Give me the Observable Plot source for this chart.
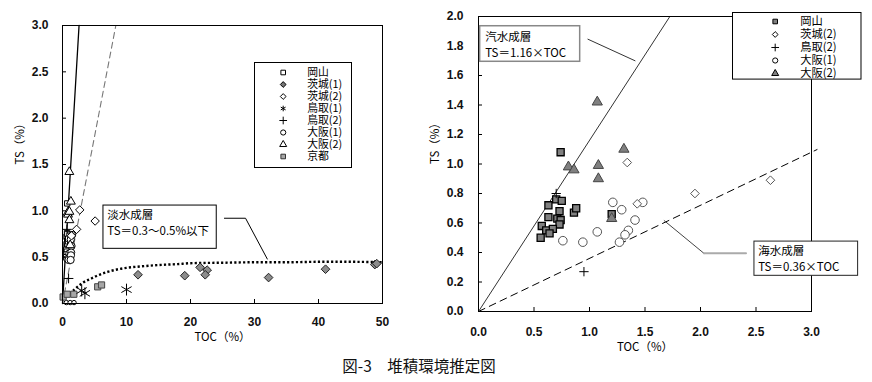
<!DOCTYPE html>
<html><head><meta charset="utf-8">
<script src="https://cdn.jsdelivr.net/npm/d3@7"></script>
<script src="https://cdn.jsdelivr.net/npm/@observablehq/plot@0.6"></script>
<style>
html,body{margin:0;padding:0;background:#fff;}
#wrap{position:relative;width:872px;height:382px;overflow:hidden;font-family:"Noto Sans CJK JP",sans-serif;}
#wrap svg{position:absolute;overflow:visible;max-width:none;}
#caption{position:absolute;left:0;width:838px;top:354px;text-align:center;font-size:15.5px;color:#111;font-family:"Noto Sans CJK JP",sans-serif;}
</style></head>
<body><div id="wrap"><div id="caption">図-3　堆積環境推定図</div></div>
<script>
// ---------------- data ----------------
const xTicksL = [0, 10, 20, 30, 40, 50];
const yTicksL = [0, 0.5, 1.0, 1.5, 2.0, 2.5, 3.0];
const xTicksR = [0, 0.5, 1.0, 1.5, 2.0, 2.5, 3.0];
const yTicksR = [0, 0.2, 0.4, 0.6, 0.8, 1.0, 1.2, 1.4, 1.6, 1.8, 2.0];

const brackishSlope = 1.16;  // 汽水成層 TS = 1.16 × TOC
const marineSlope = 0.36;    // 海水成層 TS = 0.36 × TOC

// 岡山
const okayamaTOC = [0.74, 0.63, 0.70, 0.75, 0.73, 0.63, 0.71, 0.74, 0.73, 0.57, 0.61, 0.67, 0.64, 0.56, 0.86, 0.88, 1.20];
const okayamaTS  = [1.08, 0.72, 0.76, 0.75, 0.68, 0.64, 0.63, 0.62, 0.59, 0.58, 0.55, 0.56, 0.53, 0.50, 0.67, 0.70, 0.66];
// 茨城(1)
const ibaraki1TOC = [11.8, 19.1, 21.5, 22.6, 22.3, 32.2, 41.1, 48.8, 49.1];
const ibaraki1TS  = [0.31, 0.30, 0.39, 0.36, 0.31, 0.28, 0.37, 0.42, 0.43];
// 茨城(2)
const ibaraki2TOC_L = [2.7, 5.1, 2.2, 1.4];
const ibaraki2TS_L  = [1.01, 0.89, 0.80, 0.73];
const ibaraki2TOC_R = [1.34, 1.43, 1.95, 2.63];
const ibaraki2TS_R  = [1.01, 0.73, 0.80, 0.89];
// 鳥取(1)
const tottori1TOC = [3.0, 3.5, 10.0];
const tottori1TS  = [0.14, 0.11, 0.15];
// 鳥取(2)
const tottori2TOC = [0.70, 0.95];
const tottori2TS  = [0.80, 0.27];
// 大阪(1)
const osaka1TOC = [0.76, 0.94, 1.07, 1.21, 1.29, 1.41, 1.35, 1.32, 1.27, 1.48];
const osaka1TS  = [0.48, 0.47, 0.54, 0.74, 0.69, 0.62, 0.55, 0.52, 0.47, 0.74];
const osaka1TOC_base = [0.6, 1.2, 1.8];
const osaka1TS_base  = [0.01, 0.01, 0.01];
// 大阪(2)
const osaka2TOC = [1.07, 1.31, 0.81, 0.86, 1.08, 1.08, 1.20];
const osaka2TS  = [1.42, 1.10, 0.98, 0.96, 0.99, 0.90, 0.63];
// 京都
const kyotoTOC = [0.1, 0.73, 1.77, 5.5, 6.1];
const kyotoTS  = [0.07, 0.10, 0.10, 0.18, 0.20];

// 淡水成層 curve (TS = 0.3～0.5% 以下)
const freshTOC = [0, 0.5, 1, 1.7, 2.5, 3.3, 4.5, 5.4, 7, 8.7, 10, 12.2, 15, 18, 20, 25, 30, 35, 40, 45, 50];
const freshTS  = [0.05, 0.08, 0.11, 0.14, 0.19, 0.23, 0.27, 0.30, 0.34, 0.37, 0.385, 0.40, 0.415, 0.425, 0.435, 0.44, 0.445, 0.445, 0.45, 0.45, 0.445];

// legends
const legendNamesL = ["岡山", "茨城(1)", "茨城(2)", "鳥取(1)", "鳥取(2)", "大阪(1)", "大阪(2)", "京都"];
const legendNamesR = ["岡山", "茨城(2)", "鳥取(2)", "大阪(1)", "大阪(2)"];

// annotations
const freshLabel = ["淡水成層", "TS＝0.3～0.5%以下"];
const brackishLabel = ["汽水成層", "TS＝1.16×TOC"];
const marineLabel = ["海水成層", "TS＝0.36×TOC"];
const freshBox = [{x1: 6.4, x2: 24.1, y1: 0.59, y2: 1.057}];
const freshTextTOC = 7.0, freshTextTS = [0.949, 0.775];
const freshLeader = [{toc: 25.3, ts: 0.92}, {toc: 28.6, ts: 0.92}, {toc: 32.0, ts: 0.48}];
const brackishBox = [{x1: 0.015, x2: 0.916, y1: 1.693, y2: 1.934}];
const brackishTextTOC = 0.06, brackishTextTS = [1.858, 1.748];
const brackishLeader = [{toc: 0.986, ts: 1.846}, {toc: 1.41, ts: 1.70}];
const marineBox = [{x1: 2.486, x2: 3.42, y1: 0.242, y2: 0.474}];
const marineTextTOC = 2.52, marineTextTS = [0.406, 0.300];
const marineLeaderA = [{toc: 1.673, ts: 0.616}, {toc: 2.03, ts: 0.395}];
const marineLeaderB = [{toc: 2.03, ts: 0.395}, {toc: 2.41, ts: 0.395}];
const marineLineEndTOC = 3.05;

// ---------------- helpers ----------------
const zip = (xs, ys) => xs.map((x, i) => ({toc: x, ts: ys[i]}));
const JP = "Noto Sans CJK JP";
const NUM = "Liberation Sans, Arial, sans-serif";
const pts = (xs, ys, o) => Plot.dot(zip(xs, ys), {x: "toc", y: "ts", ...o});
const axisFont = {fontFamily: NUM, fontSize: "12px", fontWeight: "bold", color: "#111", background: "transparent"};

// ---------------- left chart ----------------
const W_L = 420, H_L = 350, mL = {l: 62, r: 38, t: 25, b: 47};
const pwL = W_L - mL.l - mL.r, phL = H_L - mL.t - mL.b;
const left = Plot.plot({
  width: W_L, height: H_L,
  marginLeft: mL.l, marginRight: mL.r, marginTop: mL.t, marginBottom: mL.b,
  style: axisFont,
  x: {domain: [0, 50], ticks: xTicksL, tickFormat: d3.format("d"), tickSize: 0, tickPadding: 14, label: null},
  y: {domain: [0, 3], ticks: yTicksL, tickFormat: d3.format(".1f"), tickSize: 0, tickPadding: 14, label: null},
  marks: [
    Plot.line(zip([0, 3 / marineSlope], [0, 3]), {x: "toc", y: "ts", stroke: "#777", strokeWidth: 1.1, strokeDasharray: "6,4"}),
    Plot.line(zip([0, 3 / brackishSlope], [0, 3]), {x: "toc", y: "ts", stroke: "#000", strokeWidth: 1.3}),
    Plot.line(zip(freshTOC, freshTS), {x: "toc", y: "ts", stroke: "#000", strokeWidth: 2.4, strokeDasharray: "2.2,2.2", strokeLinecap: "butt", curve: "monotone-x"}),
    Plot.line(freshLeader, {x: "toc", y: "ts", stroke: "#000", strokeWidth: 1}),
    Plot.rect(freshBox, {x1: "x1", x2: "x2", y1: "y1", y2: "y2", fill: "#fff", stroke: "#000", strokeWidth: 1}),
    Plot.text(freshLabel, {x: () => freshTextTOC, y: (d, i) => freshTextTS[i], text: d => d, textAnchor: "start", fontFamily: JP, fontWeight: "normal", fontSize: 11.5, fill: "#000"}),
    pts(okayamaTOC, okayamaTS, {symbol: "square", r: 3.0, fill: "#fff", stroke: "#000", strokeWidth: 1}),
    pts(osaka1TOC, osaka1TS, {symbol: "circle", r: 3.6, fill: "#fff", stroke: "#000", strokeWidth: 1}),
    pts(osaka1TOC_base, osaka1TS_base, {symbol: "circle", r: 2.2, fill: "#fff", stroke: "#000", strokeWidth: 1}),
    pts(osaka2TOC, osaka2TS, {symbol: "triangle", r: 3.3, fill: "#fff", stroke: "#000", strokeWidth: 1}),
    pts(tottori2TOC, tottori2TS, {symbol: "plus", r: 3.2, stroke: "#000", strokeWidth: 1}),
    pts(ibaraki2TOC_L, ibaraki2TS_L, {symbol: "diamond2", r: 3.8, fill: "#fff", stroke: "#000", strokeWidth: 1}),
    pts(ibaraki1TOC, ibaraki1TS, {symbol: "diamond2", r: 3.9, fill: "#8c8c8c", stroke: "#222", strokeWidth: 1}),
    pts(kyotoTOC, kyotoTS, {symbol: "square", r: 3.5, fill: "#a6a6a6", stroke: "#444", strokeWidth: 1}),
    pts(tottori1TOC, tottori1TS, {symbol: "asterisk", r: 5.6, stroke: "#000", strokeWidth: 1}),
    Plot.frame({stroke: "#000", strokeWidth: 1}),
    Plot.ruleX(xTicksL, {x: d => d, insetTop: phL - 4, stroke: "#000"}),
    Plot.ruleY(yTicksL, {y: d => d, insetRight: pwL - 4, stroke: "#000"}),
    Plot.text(["TS（%）"], {frameAnchor: "left", dx: -42, rotate: -90, fontFamily: JP, fontWeight: "normal", fontSize: 11.5, fill: "#000"}),
    Plot.text(["TOC（%）"], {frameAnchor: "bottom", dy: 37, fontFamily: JP, fontWeight: "normal", fontSize: 11.5, fill: "#000"})
  ]
});
left.style.left = "0px"; left.style.top = "0px";

// ---------------- right chart ----------------
const W_R = 452, H_R = 360, mR = {l: 58, r: 61, t: 16, b: 49};
const right = Plot.plot({
  width: W_R, height: H_R,
  marginLeft: mR.l, marginRight: mR.r, marginTop: mR.t, marginBottom: mR.b,
  style: axisFont,
  x: {domain: [0, 3], ticks: xTicksR, tickFormat: d3.format(".1f"), tickSize: 0, tickPadding: 16, label: null},
  y: {domain: [0, 2], ticks: yTicksR, tickFormat: d3.format(".1f"), tickSize: 0, tickPadding: 15, label: null},
  marks: [
    Plot.line(zip([0, marineLineEndTOC], [0, marineLineEndTOC * marineSlope]), {x: "toc", y: "ts", stroke: "#000", strokeWidth: 1, strokeDasharray: "7,5"}),
    Plot.line(zip([0, 2 / brackishSlope], [0, 2]), {x: "toc", y: "ts", stroke: "#333", strokeWidth: 1}),
    Plot.frame({stroke: "#000", strokeWidth: 1}),
    Plot.ruleX(xTicksR, {x: d => d, insetTop: (H_R - mR.t - mR.b) - 4, stroke: "#000"}),
    Plot.ruleY(yTicksR, {y: d => d, insetRight: (W_R - mR.l - mR.r) - 4, stroke: "#000"}),
    Plot.line(brackishLeader, {x: "toc", y: "ts", stroke: "#333", strokeWidth: 1}),
    Plot.rect(brackishBox, {x1: "x1", x2: "x2", y1: "y1", y2: "y2", fill: "#fff", stroke: "#888", strokeWidth: 1.5}),
    Plot.text(brackishLabel, {x: () => brackishTextTOC, y: (d, i) => brackishTextTS[i], text: d => d, textAnchor: "start", fontFamily: JP, fontWeight: "normal", fontSize: 11.5, fill: "#000"}),
    Plot.line(marineLeaderA, {x: "toc", y: "ts", stroke: "#444", strokeWidth: 1}),
    Plot.line(marineLeaderB, {x: "toc", y: "ts", stroke: "#aaa", strokeWidth: 2}),
    Plot.rect(marineBox, {x1: "x1", x2: "x2", y1: "y1", y2: "y2", fill: "#fff", stroke: "#222", strokeWidth: 1}),
    Plot.text(marineLabel, {x: () => marineTextTOC, y: (d, i) => marineTextTS[i], text: d => d, textAnchor: "start", fontFamily: JP, fontWeight: "normal", fontSize: 11.5, fill: "#000"}),
    pts(osaka1TOC, osaka1TS, {symbol: "circle", r: 4.3, fill: "#fff", stroke: "#555", strokeWidth: 1}),
    pts(okayamaTOC, okayamaTS, {symbol: "square", r: 4.0, fill: "#808080", stroke: "#000", strokeWidth: 1.3}),
    pts(osaka2TOC, osaka2TS, {symbol: "triangle", r: 3.8, fill: "#808080", stroke: "#444", strokeWidth: 1}),
    pts(ibaraki2TOC_R, ibaraki2TS_R, {symbol: "diamond2", r: 3.9, fill: "#fff", stroke: "#555", strokeWidth: 1}),
    pts(tottori2TOC, tottori2TS, {symbol: "plus", r: 3.1, stroke: "#000", strokeWidth: 1}),
    Plot.text(["TS（%）"], {frameAnchor: "left", dx: -43, rotate: -90, fontFamily: JP, fontWeight: "normal", fontSize: 11.5, fill: "#000"}),
    Plot.text(["TOC（%）"], {frameAnchor: "bottom", dy: 39, fontFamily: JP, fontWeight: "normal", fontSize: 11.5, fill: "#000"})
  ]
});
right.style.left = "420px"; right.style.top = "0px";

// ---------------- legends ----------------
const styleL = {
  "岡山": {symbol: "square", fill: "#fff", stroke: "#000"},
  "茨城(1)": {symbol: "diamond2", fill: "#777", stroke: "#000"},
  "茨城(2)": {symbol: "diamond2", fill: "#fff", stroke: "#000"},
  "鳥取(1)": {symbol: "asterisk", fill: "none", stroke: "#000"},
  "鳥取(2)": {symbol: "plus", fill: "none", stroke: "#000"},
  "大阪(1)": {symbol: "circle", fill: "#fff", stroke: "#000"},
  "大阪(2)": {symbol: "triangle", fill: "#fff", stroke: "#000"},
  "京都": {symbol: "square", fill: "#a6a6a6", stroke: "#333"}
};
const styleR = {
  "岡山": {symbol: "square", fill: "#808080", stroke: "#000"},
  "茨城(2)": {symbol: "diamond2", fill: "#fff", stroke: "#000"},
  "鳥取(2)": {symbol: "plus", fill: "none", stroke: "#000"},
  "大阪(1)": {symbol: "circle", fill: "#fff", stroke: "#000"},
  "大阪(2)": {symbol: "triangle", fill: "#808080", stroke: "#000"}
};
function legendPlot(names, styles, w, h, yRange, symX, textX, fs, r) {
  return Plot.plot({
    width: w, height: h, marginLeft: 0, marginRight: 0, marginTop: 0, marginBottom: 0,
    style: {background: "transparent", fontFamily: JP},
    x: {axis: null, domain: [0, w], range: [0, w]},
    y: {type: "point", domain: names, range: yRange, padding: 0, axis: null},
    marks: [
      Plot.frame({fill: "#fff", stroke: "#000", strokeWidth: 1}),
      ...names.map(n => Plot.dot([n], {x: () => symX, y: d => d, symbol: styles[n].symbol, r: r, fill: styles[n].fill, stroke: styles[n].stroke, strokeWidth: 1})),
      Plot.text(names, {x: () => textX, y: d => d, text: d => d, textAnchor: "start", fontSize: fs, fontFamily: JP, fill: "#000"})
    ]
  });
}
const legL = legendPlot(legendNamesL, styleL, 97, 105, [8, 96.2], 28.7, 52.7, 10.8, 2.6);
legL.style.left = "254px"; legL.style.top = "62px";
const legR = legendPlot(legendNamesR, styleR, 128.5, 66.6, [8.3, 61], 42.7, 67.7, 11.3, 2.6);
legR.style.left = "732px"; legR.style.top = "11.7px";

const wrap = document.getElementById("wrap");
wrap.appendChild(left);
wrap.appendChild(right);
wrap.appendChild(legL);
wrap.appendChild(legR);
</script></body></html>
